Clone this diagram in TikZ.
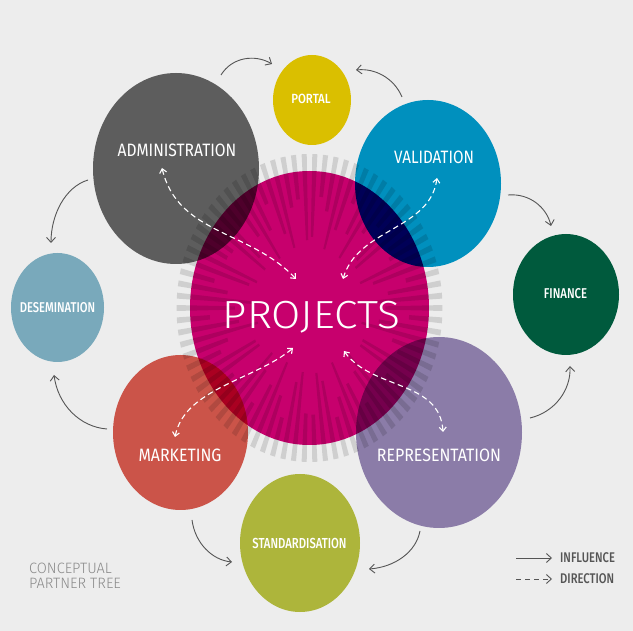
\documentclass[tikz,border=0pt]{standalone}
\usepackage{fontspec}
\setmainfont{Fira Sans}
\newfontfamily\firalight{Fira Sans Light}
\newfontfamily\firamed{Fira Sans Medium}
\usetikzlibrary{shapes.geometric,arrows.meta}
\definecolor{bg}{HTML}{EDEDED}
\definecolor{cproj}{HTML}{D70076}
\definecolor{cadmin}{HTML}{656565}
\definecolor{cval}{HTML}{009BCD}
\definecolor{cmkt}{HTML}{DB5B4F}
\definecolor{crep}{HTML}{9686B5}
\definecolor{cportal}{HTML}{DABF00}
\definecolor{cfin}{HTML}{005A3D}
\definecolor{cdes}{HTML}{79A9BB}
\definecolor{cstd}{HTML}{ADB53B}
\definecolor{ctick}{HTML}{CFCFCF}
\definecolor{carrow}{HTML}{555555}
\definecolor{cnote}{HTML}{8A8A8A}
\newcommand\lbl[3]{\scalebox{#1}[1]{\fontsize{#2}{#2}\selectfont #3}}
\begin{document}
\begin{tikzpicture}[x=1pt,y=-1pt,
  blob/.style={ellipse,inner sep=0pt,draw=none},
  lab/.style={text=white,inner sep=0pt,anchor=base},
  note/.style={inner sep=0pt,anchor=base west},
  influence/.style={carrow,line width=0.9pt,-{Straight Barb[length=5pt,width=9pt]}},
  direction/.style={white,line width=1.1pt,dash pattern=on 5.5pt off 3.5pt,{Straight Barb[length=4pt,width=7pt]}-{Straight Barb[length=4pt,width=7pt]}}]
\fill[bg] (0,0) rectangle (633,631);
\useasboundingbox (0,0) rectangle (633,631);
% sunburst rays
\foreach \i in {0,...,77}{
  \pgfmathsetmacro\ang{\i*4.61538}
  \pgfmathsetmacro\rin{52+48*(0.5+0.5*sin(\i*97))}
  \pgfmathsetmacro\da{1.1}
  \fill[ctick] ({309.5+\rin*cos(\ang-\da)},{308+1.155*\rin*sin(\ang-\da)})
    -- ({309.5+\rin*cos(\ang+\da)},{308+1.155*\rin*sin(\ang+\da)})
    -- ({309.5+133*cos(\ang+\da)},{308+154*sin(\ang+\da)})
    -- ({309.5+133*cos(\ang-\da)},{308+154*sin(\ang-\da)}) -- cycle;
}
% overlapping circles
\begin{scope}[blend mode=multiply]
\node[blob,fill=cproj,minimum width=239,minimum height=274] (projects) at (309.5,308) {};
\node[blob,fill=cadmin,minimum width=166,minimum height=191] (admin) at (176,168.5) {};
\node[blob,fill=cval,minimum width=146,minimum height=167] (valid) at (428,183.5) {};
\node[blob,fill=cmkt,minimum width=135,minimum height=155] (market) at (180.5,432.5) {};
\node[blob,fill=crep,minimum width=166,minimum height=191] (repr) at (439,432.5) {};
\end{scope}
\node[blob,fill=cportal,minimum width=78,minimum height=90] (portal) at (312,100) {};
\node[blob,fill=cfin,minimum width=106,minimum height=121] (finance) at (566,294.5) {};
\node[blob,fill=cdes,minimum width=93,minimum height=109] (desem) at (57.5,307.5) {};
\node[blob,fill=cstd,minimum width=120,minimum height=138] (std) at (300,543) {};
% labels
\node[lab] (tadmin) at (177,156.7) {\lbl{0.87}{17.9}{ADMINISTRATION}};
\node[lab] (tvalid) at (434,163.3) {\lbl{0.85}{17.9}{VALIDATION}};
\node[lab] (tmarket) at (180,461.2) {\lbl{0.89}{17.9}{MARKETING}};
\node[lab] (trepr) at (439,461.2) {\lbl{0.89}{17.9}{REPRESENTATION}};
\node[lab] (tproj) at (311.5,328.5) {\lbl{1.08}{39.2}{\firalight PROJECTS}};
\node[lab] (tportal) at (311,104) {\lbl{0.86}{13.3}{\firamed PORTAL}};
\node[lab] (tfin) at (565.5,299) {\lbl{0.8}{14.2}{\firamed FINANCE}};
\node[lab] (tdes) at (57.5,312.5) {\lbl{0.79}{14.2}{\firamed DESEMINATION}};
\node[lab] (tstd) at (299.5,548) {\lbl{0.78}{14.5}{\firamed STANDARDISATION}};
\node[note,text=cnote] (tc1) at (29,573.2) {\lbl{0.97}{15}{\firalight CONCEPTUAL}};
\node[note,text=cnote] (tc2) at (29,589) {\lbl{0.97}{15}{\firalight PARTNER TREE}};
\node[note,text=carrow] (tinf) at (560,562.4) {\lbl{0.8}{14}{\firamed INFLUENCE}};
\node[note,text=carrow] (tdir) at (560,583.9) {\lbl{0.8}{14}{\firamed DIRECTION}};
% influence arrow end points
\coordinate (a1s) at (221,75);  \coordinate (a1e) at (272,64);
\coordinate (a2s) at (402,97);  \coordinate (a2e) at (356,70);
\coordinate (a3s) at (508,195); \coordinate (a3e) at (551,226);
\coordinate (a4s) at (530,418); \coordinate (a4e) at (570,366);
\coordinate (a5s) at (420,531); \coordinate (a5e) at (369,569);
\coordinate (a6s) at (192,520); \coordinate (a6e) at (232,562);
\coordinate (a7s) at (107,429); \coordinate (a7e) at (54,375);
\coordinate (a8s) at (88,180);  \coordinate (a8e) at (51,243);
\draw[influence] (a1s) .. controls (232,57) and (255,54) .. (a1e);
\draw[influence] (a2s) .. controls (394,78) and (375,68) .. (a2e);
\draw[influence] (a3s) .. controls (530,193) and (547,208) .. (a3e);
\draw[influence] (a4s) .. controls (555,412) and (571,390) .. (a4e);
\draw[influence] (a5s) .. controls (416,552) and (395,567) .. (a5e);
\draw[influence] (a6s) .. controls (195,543) and (212,560) .. (a6e);
\draw[influence] (a7s) .. controls (80,427) and (58,405) .. (a7e);
\draw[influence] (a8s) .. controls (65,187) and (51,215) .. (a8e);
% direction arrows
\coordinate (d1s) at (162,168); \coordinate (d1e) at (296,279);
\coordinate (d2s) at (437,178); \coordinate (d2e) at (343,279);
\coordinate (d3s) at (175,437); \coordinate (d3e) at (293,348);
\coordinate (d4s) at (344,351); \coordinate (d4e) at (443,432);
\draw[direction] (d1s) .. controls (178,235) and (250,230) .. (d1e);
\draw[direction] (d2s) .. controls (430,230) and (358,228) .. (d2e);
\draw[direction] (d3s) .. controls (185,388) and (255,380) .. (d3e);
\draw[direction] (d4s) .. controls (372,390) and (440,380) .. (d4e);
% legend
\coordinate (l1s) at (516,558); \coordinate (l1e) at (552,558);
\coordinate (l2s) at (516,579); \coordinate (l2e) at (552,579);
\draw[influence] (l1s) -- (l1e);
\draw[carrow,line width=0.9pt,dash pattern=on 5pt off 4pt,-{Straight Barb[length=5pt,width=9pt]}] (l2s) -- (l2e);
\end{tikzpicture}
\end{document}
